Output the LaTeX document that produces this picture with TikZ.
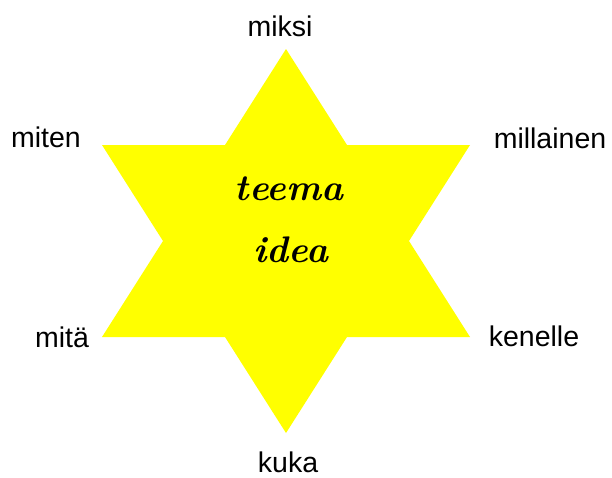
\documentclass[tikz,border=0pt]{standalone}
\usepackage{fontspec}
\setmainfont{Liberation Sans}
\newfontfamily\scriptlike{Latin Modern Roman}
\definecolor{staryellow}{HTML}{FFFF00}
\begin{document}
\begin{tikzpicture}[x=1pt,y=-1pt,
  lbl/.style={anchor=base,inner sep=0pt,font=\fontsize{28.5}{33}\selectfont},
  centre/.style={anchor=base,inner sep=0pt,font=\scriptlike\bfseries\itshape\fontsize{37}{42}\selectfont}]
\useasboundingbox (0,0) rectangle (612,477);
\fill[staryellow] (286,49) -- (347,145) -- (470,145) -- (409,241) -- (470,337) -- (347,337)
  -- (286,433) -- (225,337) -- (102,337) -- (163,241) -- (102,145) -- (225,145) -- cycle;
\node[lbl] (miksi) at (280,36) {miksi};
\node[lbl] (miten) at (46,147) {miten};
\node[lbl] (millainen) at (550,148) {millainen};
\node[lbl] (mita) at (62,347) {mitä};
\node[lbl] (kenelle) at (534,346) {kenelle};
\node[lbl] (kuka) at (288,472) {kuka};
\node[centre] (teema) at (289,200) {teema};
\node[centre] (idea) at (291,262) {idea};
\end{tikzpicture}
\end{document}
